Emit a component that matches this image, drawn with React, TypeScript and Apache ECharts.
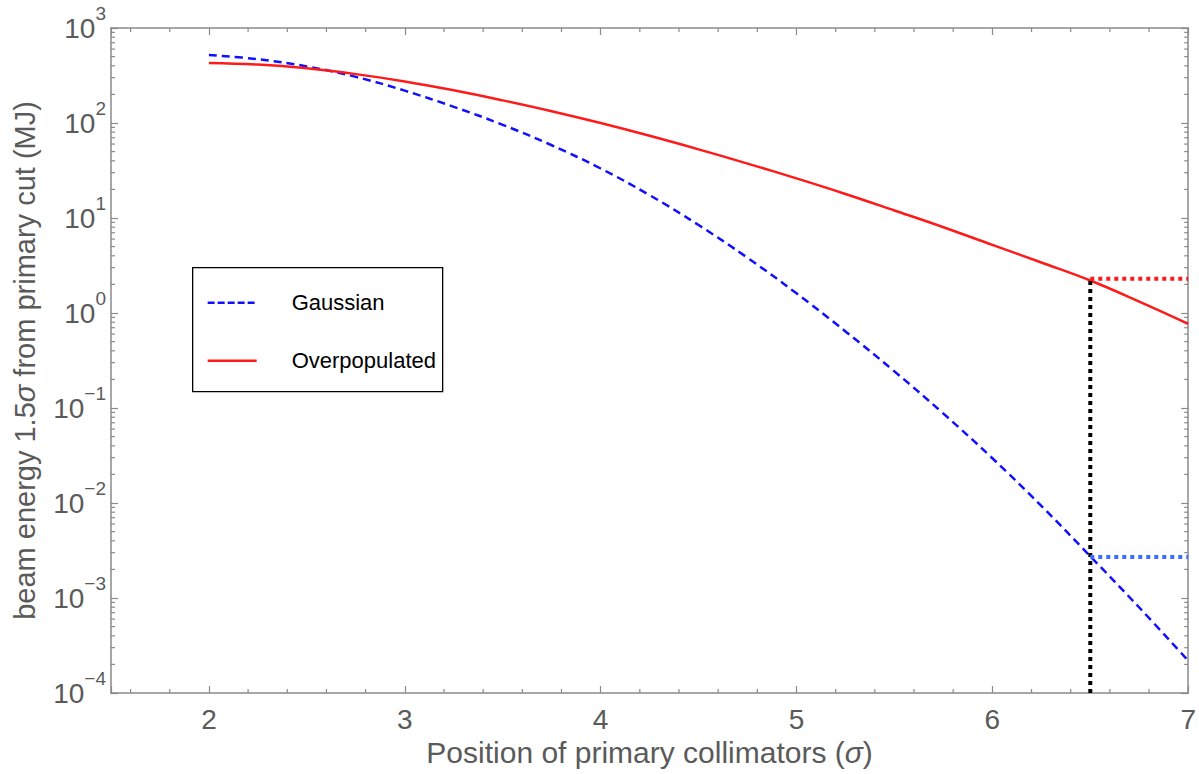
import React, { useEffect, useRef } from "react";
import * as echarts from "echarts";

// Position of the primary collimators (in sigma)
const sigma = [2, 2.25, 2.5, 2.75, 3, 3.25, 3.5, 3.75, 4, 4.25, 4.5, 4.75, 5, 5.25, 5.5, 5.75, 6, 6.25, 6.5, 6.75, 7];

// Beam energy 1.5 sigma from the primary cut (MJ)
const gaussian = [520, 469, 394, 306, 219, 148, 95.7, 58.3, 33.2, 17.4, 8.43, 3.81, 1.61, 0.64, 0.243, 0.0873, 0.0296, 0.00933, 0.00275, 0.000794, 0.000219];
const overpopulated = [429, 412, 376, 327, 274, 221, 173, 133, 99.8, 73.3, 52.8, 37.4, 26.1, 17.9, 12.0, 8.0, 5.21, 3.4, 2.2, 1.32, 0.77];

const cutSigma = 6.5;
const overpopulatedAtCut = 2.3;
const gaussianAtCut = 0.0027;

const xMin = 1.5;
const xMax = 7;
const yMin = 1e-4;
const yMax = 1e3;

const xMinorTicks = [1.6, 1.8, 2.2, 2.4, 2.6, 2.8, 3.2, 3.4, 3.6, 3.8, 4.2, 4.4, 4.6, 4.8, 5.2, 5.4, 5.6, 5.8, 6.2, 6.4, 6.6, 6.8];
const decades = [-4, -3, -2, -1, 0, 1, 2];
const mantissas = [2, 3, 4, 5, 6, 7, 8, 9];
const yMinorTicks = decades.flatMap((d) => mantissas.map((m) => m * Math.pow(10, d)));

const FONT = "'Liberation Sans', Arial, Helvetica, sans-serif";
const AXIS_COLOR = "#8a8a8a";
const LABEL_COLOR = "#5a5a5a";

export default function App() {
  const ref = useRef<HTMLDivElement>(null);

  useEffect(() => {
    if (!ref.current) return;
    const chart = echarts.init(ref.current, undefined, { renderer: "svg" });

    const superscript = (v: number) => {
      const e = Math.round(Math.log10(v));
      const exp = e < 0 ? "\u2212" + Math.abs(e) : String(e);
      return `{b|10}{s|${exp}}`;
    };

    const tickLine = (x1: number, y1: number, x2: number, y2: number) => ({
      type: "line",
      shape: { x1, y1, x2, y2 },
      style: { stroke: AXIS_COLOR, lineWidth: 1.2 },
    });

    const titleStyle = (size: number) => ({
      fontFamily: FONT,
      fontSize: size,
      color: LABEL_COLOR,
      rich: { i: { fontFamily: FONT, fontSize: size, fontStyle: "italic", color: LABEL_COLOR } },
    });

    const option: any = {
      animation: false,
      backgroundColor: "#ffffff",
      grid: { left: 111, right: 9, top: 28, bottom: 81 },
      xAxis: [
        {
          type: "value",
          min: xMin,
          max: xMax,
          splitNumber: 5,
          name: "Position of primary collimators ({i|\u03c3})",
          nameLocation: "middle",
          nameGap: 39,
          nameTextStyle: titleStyle(30),
          axisLine: { show: true, onZero: false, lineStyle: { color: AXIS_COLOR, width: 1.5 } },
          axisTick: { show: true, inside: true, length: 7, lineStyle: { color: AXIS_COLOR, width: 1.2 } },
          axisLabel: {
            margin: 12,
            fontFamily: FONT,
            fontSize: 28,
            color: LABEL_COLOR,
            formatter: (v: number) => (Number.isInteger(v) ? String(v) : ""),
          },
          splitLine: { show: false },
        },
        {
          type: "value",
          position: "top",
          min: xMin,
          max: xMax,
          splitNumber: 5,
          axisLine: { show: true, onZero: false, lineStyle: { color: AXIS_COLOR, width: 1.5 } },
          axisTick: { show: true, inside: true, length: 7, lineStyle: { color: AXIS_COLOR, width: 1.2 } },
          axisLabel: { show: false },
          splitLine: { show: false },
        },
      ],
      yAxis: [
        {
          type: "log",
          logBase: 10,
          min: yMin,
          max: yMax,
          name: "beam energy 1.5{i|\u03c3} from primary cut (MJ)",
          nameLocation: "middle",
          nameRotate: 90,
          nameGap: 72,
          nameTextStyle: titleStyle(29),
          axisLine: { show: true, onZero: false, lineStyle: { color: AXIS_COLOR, width: 1.5 } },
          axisTick: { show: true, inside: true, length: 7, lineStyle: { color: AXIS_COLOR, width: 1.2 } },
          axisLabel: {
            margin: 5,
            padding: [0, 0, 10, 0],
            formatter: superscript,
            rich: {
              b: { fontFamily: FONT, fontSize: 28, color: LABEL_COLOR, verticalAlign: "bottom", lineHeight: 38 },
              s: { fontFamily: FONT, fontSize: 19, color: LABEL_COLOR, verticalAlign: "top", lineHeight: 19 },
            },
          },
          splitLine: { show: false },
        },
        {
          type: "log",
          logBase: 10,
          position: "right",
          min: yMin,
          max: yMax,
          axisLine: { show: true, onZero: false, lineStyle: { color: AXIS_COLOR, width: 1.5 } },
          axisTick: { show: true, inside: true, length: 7, lineStyle: { color: AXIS_COLOR, width: 1.2 } },
          axisLabel: { show: false },
          splitLine: { show: false },
        },
      ],
      series: [
        {
          name: "Gaussian",
          type: "line",
          smooth: 0.4,
          showSymbol: false,
          data: sigma.map((s, i) => [s, gaussian[i]]),
          lineStyle: { color: "#1010ff", width: 2.5, type: [8, 5] },
          z: 3,
        },
        {
          name: "Overpopulated",
          type: "line",
          smooth: 0.4,
          showSymbol: false,
          data: sigma.map((s, i) => [s, overpopulated[i]]),
          lineStyle: { color: "#ff1a1a", width: 2.5 },
          z: 3,
        },
        {
          name: "cut",
          type: "line",
          showSymbol: false,
          data: [
            [cutSigma, yMin],
            [cutSigma, overpopulatedAtCut],
          ],
          lineStyle: { color: "#000000", width: 4, type: [4, 4] },
          z: 4,
        },
        {
          name: "overpopulated at cut",
          type: "line",
          showSymbol: false,
          data: [
            [cutSigma, overpopulatedAtCut],
            [xMax, overpopulatedAtCut],
          ],
          lineStyle: { color: "#ff1a1a", width: 4, type: [4, 4] },
          z: 4,
        },
        {
          name: "gaussian at cut",
          type: "line",
          showSymbol: false,
          data: [
            [cutSigma, gaussianAtCut],
            [xMax, gaussianAtCut],
          ],
          lineStyle: { color: "#3a6cff", width: 4, type: [4, 4] },
          z: 4,
        },
        {
          name: "y minor ticks",
          type: "custom",
          silent: true,
          clip: false,
          data: yMinorTicks.map((v) => [xMin, v]),
          renderItem: (_p: any, api: any) => {
            const v = api.value(1);
            const l = api.coord([xMin, v]);
            const r = api.coord([xMax, v]);
            return {
              type: "group",
              children: [tickLine(l[0], l[1], l[0] + 4, l[1]), tickLine(r[0], r[1], r[0] - 4, r[1])],
            };
          },
          z: 2,
        },
        {
          name: "x minor ticks",
          type: "custom",
          silent: true,
          clip: false,
          data: xMinorTicks.map((v) => [v, yMin]),
          renderItem: (_p: any, api: any) => {
            const v = api.value(0);
            const b = api.coord([v, yMin]);
            const t = api.coord([v, yMax]);
            return {
              type: "group",
              children: [tickLine(b[0], b[1], b[0], b[1] - 4), tickLine(t[0], t[1], t[0], t[1] + 4)],
            };
          },
          z: 2,
        },
      ],
      graphic: [
        {
          type: "group",
          left: 192,
          top: 267,
          z: 100,
          children: [
            {
              type: "rect",
              shape: { x: 0, y: 0, width: 250, height: 124 },
              style: { fill: "#ffffff", stroke: "#000000", lineWidth: 1.3 },
            },
            {
              type: "line",
              shape: { x1: 15, y1: 35, x2: 64, y2: 35 },
              style: { stroke: "#1010ff", lineWidth: 2.5, lineDash: [7, 3] },
            },
            {
              type: "text",
              x: 99,
              y: 35,
              style: { text: "Gaussian", fontFamily: FONT, fontSize: 22, fill: "#000000", verticalAlign: "middle" },
            },
            {
              type: "line",
              shape: { x1: 15, y1: 93, x2: 64, y2: 93 },
              style: { stroke: "#ff1a1a", lineWidth: 2.5 },
            },
            {
              type: "text",
              x: 99,
              y: 93,
              style: { text: "Overpopulated", fontFamily: FONT, fontSize: 22, fill: "#000000", verticalAlign: "middle" },
            },
          ],
        },
      ],
    };

    chart.setOption(option);
    return () => chart.dispose();
  }, []);

  return <div ref={ref} style={{ position: "fixed", left: 0, top: 0, width: 1199, height: 774 }} />;
}
